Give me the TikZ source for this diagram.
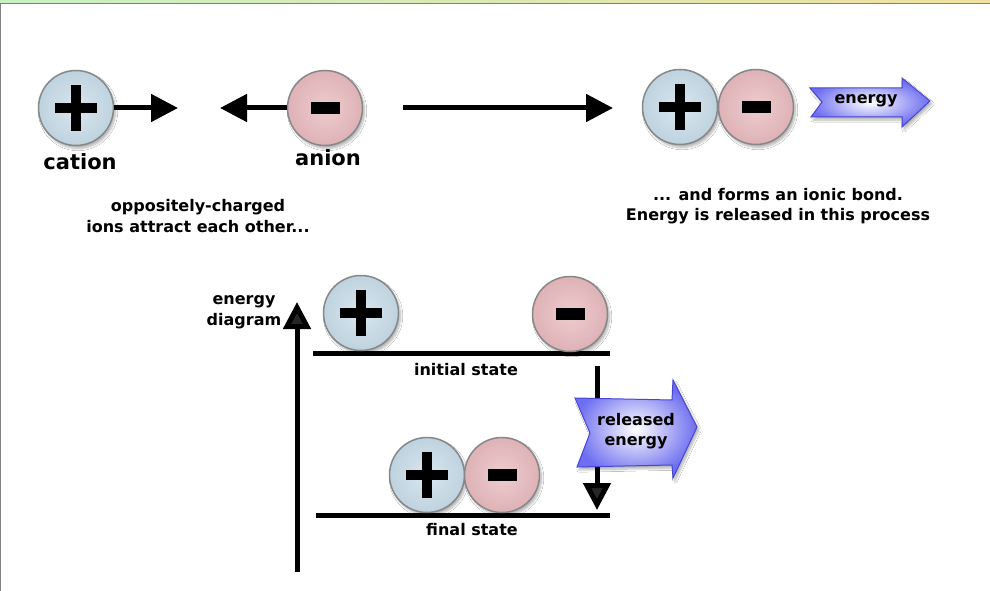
\documentclass[tikz,border=0pt]{standalone}
\usepackage{fontspec}
\setmainfont{DejaVu Sans}
\usetikzlibrary{arrows.meta,shadows.blur}
\definecolor{catin}{RGB}{218,231,239}
\definecolor{catout}{RGB}{190,210,223}
\definecolor{anin}{RGB}{238,204,206}
\definecolor{anout}{RGB}{222,178,182}
\definecolor{ionrim}{RGB}{135,135,135}
\definecolor{arrblue}{RGB}{110,110,240}
\definecolor{arrrim}{RGB}{70,70,210}
\definecolor{topgreen}{RGB}{200,240,195}
\definecolor{topyellow}{RGB}{240,225,160}
\tikzset{
  ion/.style={circle, minimum size=75pt, inner sep=0pt, draw=ionrim, line width=1.5pt,
    blur shadow={shadow blur steps=8, shadow xshift=2pt, shadow yshift=-3pt, shadow opacity=30}},
  cat/.style={ion, inner color=catin, outer color=catout,
    path picture={
      \fill[black] ([xshift=-21pt,yshift=-5pt]path picture bounding box.center) rectangle ([xshift=21pt,yshift=5pt]path picture bounding box.center);
      \fill[black] ([xshift=-5pt,yshift=-23pt]path picture bounding box.center) rectangle ([xshift=5pt,yshift=23pt]path picture bounding box.center);
    }},
  ani/.style={ion, inner color=anin, outer color=anout,
    path picture={
      \fill[black] ([xshift=-14.5pt,yshift=-6pt]path picture bounding box.center) rectangle ([xshift=14.5pt,yshift=6pt]path picture bounding box.center);
    }},
  conn/.style={line width=5pt, -{Triangle[length=27pt,width=27pt]}},
  level/.style={line width=5pt},
  lab/.style={font=\fontsize{21}{25}\selectfont\bfseries, inner sep=0pt},
  txt/.style={font=\fontsize{16}{20.5}\selectfont\bfseries, align=center, inner sep=0pt},
  bluearrow/.style={inner color=white, outer color=arrblue, draw=arrrim, line width=1pt,
    blur shadow={shadow blur steps=8, shadow xshift=2pt, shadow yshift=-3pt, shadow opacity=30}},
}
\begin{document}
\begin{tikzpicture}[x=1pt,y=-1pt]
\useasboundingbox (0,0) rectangle (990,591);
\fill[white] (0,0) rectangle (990,591);
% window frame
\shade[left color=topgreen, right color=topyellow] (0,0) rectangle (990,3);
\draw[gray, line width=1pt] (0,3.5) -- (990,3.5);
\draw[gray, line width=1pt] (0.5,3.5) -- (0.5,591);

% ---- top row ----
\node[cat] (c1) at (76,108) {};
\coordinate (c1e) at (178,108);
\draw[conn] (c1.east) -- (c1e);
\node[ani] (a1) at (325,108) {};
\coordinate (a1e) at (220,108);
\draw[conn] (a1.west) -- (a1e);
\node[lab] (lc) at (80,162) {cation};
\node[lab] (la) at (328,158) {anion};

\coordinate (m0) at (403,108);
\coordinate (m1) at (613,108);
\draw[conn] (m0) -- (m1);

\node[cat] (c2) at (680,107) {};
\node[ani] (a2) at (756,107) {};

\path[bluearrow] (810,88) -- (902,88) -- (902,78) -- (930,101) -- (902,127) -- (902,117) -- (811,117) -- (822,102) -- cycle;
\node[txt] (en) at (866,101) {energy};

\node[txt] (t1) at (198,216) {oppositely-charged\\ions attract each other...};
\node[txt] (t2) at (778,206) {... and forms an ionic bond.\\Energy is released in this process};

% ---- energy diagram ----
\coordinate (ax0) at (297,572);
\coordinate (ax1) at (297,302);
\draw[conn] (ax0) -- (ax1);
\node[txt] (ed) at (244,312) {energy\\diagram};

\coordinate (i0) at (313,353);
\coordinate (i1) at (610,353);
\draw[level] (i0) -- (i1);
\node[cat] (c3) at (361,313) {};
\node[ani] (a3) at (570,314) {};
\node[txt] (is) at (466,370) {initial state};

\coordinate (d0) at (597,366);
\coordinate (d1) at (597,510);
\draw[conn] (d0) -- (d1);

\path[bluearrow] (575,398) -- (672,400) -- (673,380) -- (697,427) -- (673,478) -- (672,465) -- (577,467) -- (590,433) -- cycle;
\node[txt] (re) at (636,431) {released\\energy};

\coordinate (f0) at (316,515);
\coordinate (f1) at (610,515);
\draw[level] (f0) -- (f1);
\node[cat] (c4) at (427,475) {};
\node[ani] (a4) at (502,475) {};
\node[txt] (fs) at (472,530) {final state};
\end{tikzpicture}
\end{document}
